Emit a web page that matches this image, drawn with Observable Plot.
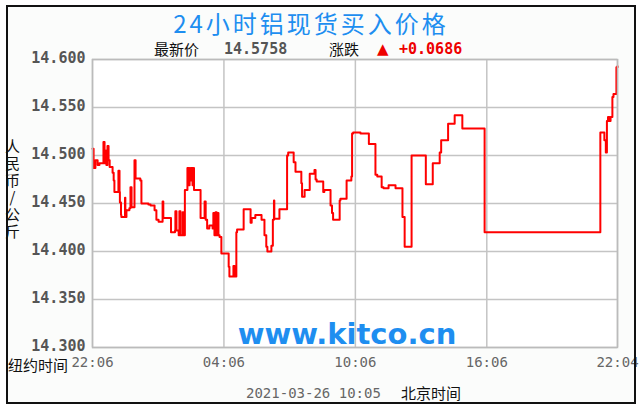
<!DOCTYPE html>
<html><head><meta charset="utf-8">
<script src="https://cdn.jsdelivr.net/npm/d3@7"></script>
<script src="https://cdn.jsdelivr.net/npm/@observablehq/plot@0.6"></script>
<style>
html,body{margin:0;padding:0;background:#fff;}
#wrap{position:relative;width:642px;height:415px;overflow:hidden;background:#fff;}
#framebg{position:absolute;left:6px;top:5px;width:630px;height:399px;background:#fbfcfb;z-index:0;}
#frameborder{position:absolute;left:6px;top:5px;width:626px;height:395px;border:2px solid #111;z-index:3;pointer-events:none;}
#chart{position:absolute;left:0;top:0;z-index:1;}
.t{position:absolute;z-index:2;white-space:nowrap;line-height:1;}
#title{left:0;width:622px;top:5px;height:25px;line-height:25px;text-align:center;font:24px "Noto Sans CJK SC";color:#1e8ef0;letter-spacing:3px;}
.cjk{font-family:"Noto Sans CJK SC";font-size:15px;color:#111;}
.num{font-family:"DejaVu Sans Mono";font-weight:bold;font-size:15px;}
.mono{font-family:"DejaVu Sans Mono";font-size:14px;color:#666;}
#ylab{left:5px;top:139px;writing-mode:vertical-rl;text-orientation:upright;font-family:"Noto Sans CJK SC";font-size:15px;color:#111;letter-spacing:2px;}
</style>
</head><body>
<div id="wrap">
  <div id="framebg"></div>
  <div id="chart"></div>
  <div id="title" class="t">24小时铝现货买入价格</div>
  <div class="t cjk" style="left:154px;top:41px;">最新价</div>
  <div class="t num" style="left:224px;top:42px;color:#555;">14.5758</div>
  <div class="t cjk" style="left:329px;top:41px;">涨跌</div>
  <div class="t" style="left:377px;top:42px;color:#e00;font-size:15px;font-family:'DejaVu Sans';">▲</div>
  <div class="t num" style="left:399px;top:42px;color:#e00;">+0.0686</div>
  <div id="ylab" class="t">人民币/公斤</div>
  <div class="t cjk" style="left:8px;top:357px;">纽约时间</div>
  <div class="t mono" style="left:246px;top:386px;">2021-03-26 10:05</div>
  <div class="t cjk" style="left:401px;top:385px;">北京时间</div>
  <div id="frameborder"></div>
</div>
<script>
// minutes elapsed since 22:06 (New York time)
const minutes = [
  0,3,8,14,19,30,33,36,38,41,44,47,55,58,60,71,74,75,78,79,
  89,90,93,101,104,107,115,118,131,134,153,159,170,175,181,192,194,215,226,227,
  230,236,238,241,247,249,253,260,263,266,268,271,274,277,278,296,307,310,314,320,
  329,331,334,337,340,342,345,348,353,373,375,386,389,394,396,414,433,436,446,463,
  471,476,479,490,494,497,498,512,533,536,551,556,572,574,581,595,608,611,614,632,
  635,652,656,659,677,679,696,709,711,714,734,757,775,780,792,797,811,830,849,855,
  874,913,932,951,955,974,992,1013,1074,1391,1402,1406,1409,1412,1416,1419,1424,1427,1432,1435,
  1438
];
const prices = [
  14.507,14.487,14.495,14.490,14.492,14.514,14.492,14.505,14.490,14.510,14.495,14.488,14.482,14.474,14.462,14.484,14.462,14.451,14.438,14.436,
  14.456,14.436,14.443,14.445,14.467,14.446,14.495,14.476,14.474,14.450,14.449,14.448,14.443,14.433,14.431,14.452,14.435,14.420,14.422,14.442,
  14.422,14.417,14.442,14.417,14.441,14.417,14.464,14.487,14.469,14.487,14.474,14.487,14.469,14.487,14.464,14.435,14.452,14.433,14.424,14.427,
  14.424,14.440,14.417,14.441,14.417,14.440,14.417,14.415,14.398,14.384,14.374,14.385,14.374,14.420,14.423,14.444,14.430,14.435,14.438,14.433,
  14.417,14.405,14.400,14.406,14.433,14.453,14.434,14.444,14.500,14.503,14.493,14.483,14.471,14.457,14.464,14.481,14.485,14.475,14.473,14.462,
  14.464,14.448,14.440,14.433,14.453,14.455,14.474,14.478,14.523,14.524,14.523,14.512,14.480,14.478,14.467,14.466,14.469,14.466,14.436,14.405,
  14.500,14.470,14.492,14.503,14.516,14.533,14.542,14.528,14.420,14.524,14.516,14.503,14.536,14.540,14.536,14.540,14.561,14.564,14.564,14.592,
  14.593
];
const xTickMinutes = [0, 360, 720, 1080, 1438];
const xTickLabels = ["22:06", "04:06", "10:06", "16:06", "22:04"];
const yTicks = [14.30, 14.35, 14.40, 14.45, 14.50, 14.55, 14.60];
const watermark = ["www.kitco.cn"];

const data = minutes.map((m, i) => ({m, p: prices[i]}));

const chart = Plot.plot({
  width: 642, height: 372,
  marginLeft: 92, marginRight: 25, marginTop: 59, marginBottom: 25,
  style: {background: "transparent", overflow: "visible"},
  x: {domain: [0, 1438], label: null},
  y: {domain: [14.3, 14.6], label: null},
  marks: [
    Plot.frame({fill: "#fff", stroke: null}),
    Plot.gridY(yTicks, {stroke: "#c4c4c4", strokeOpacity: 1, strokeWidth: 1.5}),
    Plot.gridX(xTickMinutes, {stroke: "#c4c4c4", strokeOpacity: 1, strokeWidth: 1.5}),
    Plot.text(watermark, {text: d => d, frameAnchor: "bottom", dx: -8, dy: -4,
      fontSize: 29, fontWeight: "bold", fontFamily: "DejaVu Sans", fill: "#1e8ef0"}),
    Plot.line(data, {x: "m", y: "p", curve: "step-after", stroke: "#ff0000", strokeWidth: 2}),
    Plot.frame({stroke: "#bbb", strokeWidth: 1.5}),
    Plot.axisX(xTickMinutes, {tickSize: 0, tickPadding: 10, label: null,
      tickFormat: d => xTickLabels[xTickMinutes.indexOf(d)],
      fontSize: 14, fontFamily: "DejaVu Sans Mono", fill: "#666"}),
    Plot.axisY(yTicks, {tickSize: 0, tickPadding: 7, label: null, dy: -1.5,
      tickFormat: d3.format(".3f"),
      fontSize: 15, fontWeight: "bold", fontFamily: "DejaVu Sans Mono", fill: "#555"})
  ]
});
document.getElementById("chart").appendChild(chart);
</script>
</body></html>
